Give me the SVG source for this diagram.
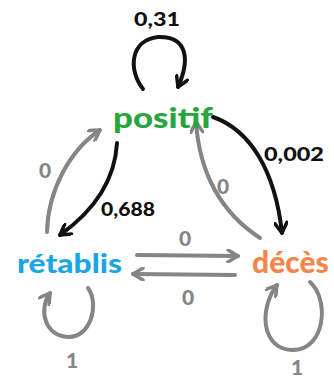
<svg xmlns="http://www.w3.org/2000/svg" width="334" height="379" viewBox="0 0 334 379">
<style>
.e{fill:none;stroke-width:4;stroke-linecap:round;stroke-linejoin:round}
.k{stroke:#111}
.g{stroke:#858585}
.n{font-family:Lato,"Noto Sans",sans-serif;font-weight:900}
.lb{font-family:Lato,"Noto Sans",sans-serif;font-weight:900;font-size:18px}
.z{font-size:21px}
</style>
<defs>
<marker id="ak" viewBox="0 0 14 14" refX="12" refY="7" markerWidth="14" markerHeight="14" markerUnits="userSpaceOnUse" orient="auto">
<path d="M2,1 L12,7 L2,13" fill="none" stroke="#111" stroke-width="3.5" stroke-linecap="round" stroke-linejoin="round"/>
</marker>
<marker id="ag" viewBox="0 0 14 14" refX="12" refY="7" markerWidth="14" markerHeight="14" markerUnits="userSpaceOnUse" orient="auto">
<path d="M2,1 L12,7 L2,13" fill="none" stroke="#858585" stroke-width="3.5" stroke-linecap="round" stroke-linejoin="round"/>
</marker>
</defs>
<g id="connectors">
<path class="e k" marker-end="url(#ak)" d="M143,89 C128,70 130,40 158,37 C188,36 190,60 178,87"/>
<path class="e k" marker-end="url(#ak)" d="M213,117 C250,130 275,170 282,233"/>
<path class="e g" marker-end="url(#ag)" d="M260,238 C225,215 200,180 196,122"/>
<path class="e k" marker-end="url(#ak)" d="M117,143 C115,180 95,210 60,235"/>
<path class="e g" marker-end="url(#ag)" d="M47,232 C48,190 70,150 100,130"/>
<path class="e g" marker-end="url(#ag)" d="M137,255 L238,256"/>
<path class="e g" marker-end="url(#ag)" d="M235,275 L133,274"/>
<path class="e g" marker-end="url(#ag)" d="M88,288 C100,305 90,338 68,337 C45,336 38,310 50,293"/>
<path class="e g" marker-end="url(#ag)" d="M310,282 C330,300 325,350 293,350 C262,350 258,310 277,285"/>
<text class="lb" x="157" y="26" text-anchor="middle" fill="#111" textLength="46" lengthAdjust="spacingAndGlyphs">0,31</text>
<text class="lb" x="294" y="161" text-anchor="middle" fill="#111" textLength="60" lengthAdjust="spacingAndGlyphs">0,002</text>
<text class="lb z" x="223" y="194" text-anchor="middle" fill="#858585">0</text>
<text class="lb" x="128" y="216" text-anchor="middle" fill="#111" textLength="54" lengthAdjust="spacingAndGlyphs">0,688</text>
<text class="lb z" x="45" y="178" text-anchor="middle" fill="#858585">0</text>
<text class="lb z" x="185" y="246" text-anchor="middle" fill="#858585">0</text>
<text class="lb z" x="188" y="305" text-anchor="middle" fill="#858585">0</text>
<text class="lb z" x="72" y="368" text-anchor="middle" fill="#858585">1</text>
<text class="lb z" x="297" y="375" text-anchor="middle" fill="#858585">1</text>
</g>
<g id="positif"><text class="n" x="113" y="128" font-size="28" textLength="100" lengthAdjust="spacingAndGlyphs" fill="#27a640">positif</text></g>
<g id="retablis"><text class="n" x="17" y="273" font-size="27" textLength="105" lengthAdjust="spacingAndGlyphs" fill="#1aa6e2">rétablis</text></g>
<g id="deces"><text class="n" x="252" y="273" font-size="30" fill="#f58549">décès</text></g>
</svg>
